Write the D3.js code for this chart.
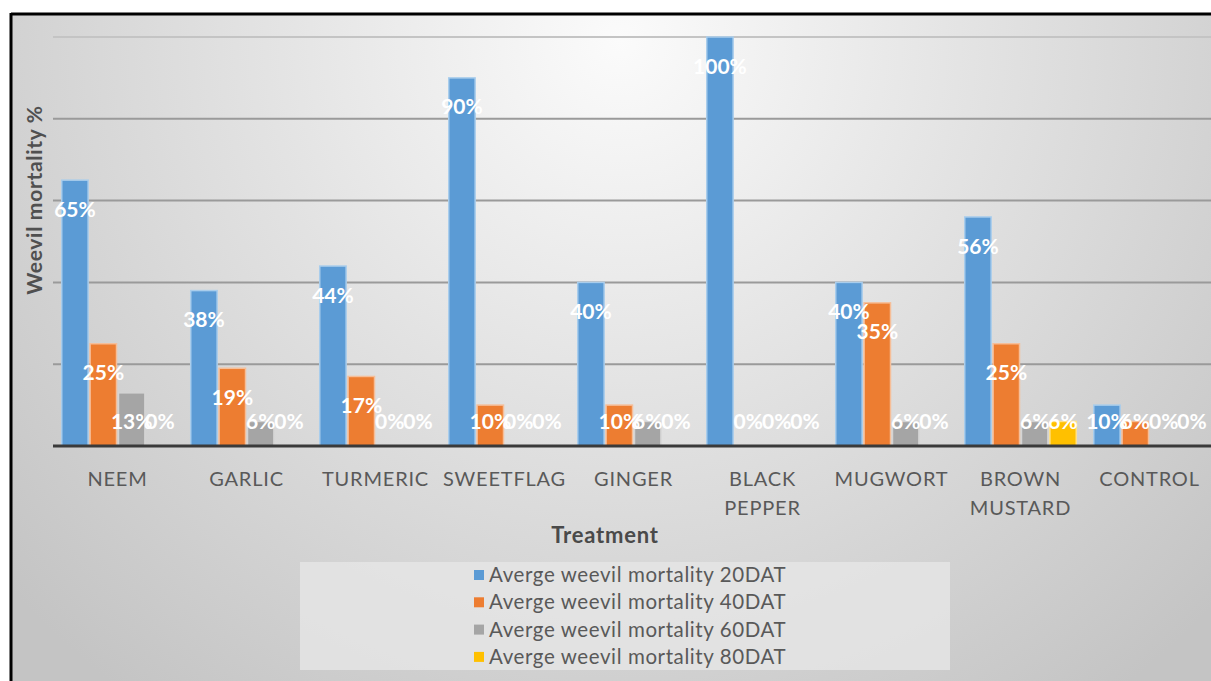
<!DOCTYPE html>
<html><head><meta charset="utf-8">
<script src="https://cdn.jsdelivr.net/npm/d3@7"></script>
<style>html,body{margin:0;padding:0;background:#fff;overflow:hidden}svg{display:block}</style>
</head><body>
<script>
const categories = [["NEEM"],["GARLIC"],["TURMERIC"],["SWEETFLAG"],["GINGER"],["BLACK","PEPPER"],["MUGWORT"],["BROWN","MUSTARD"],["CONTROL"]];
const seriesNames = ["Averge weevil mortality 20DAT","Averge weevil mortality 40DAT","Averge weevil mortality 60DAT","Averge weevil mortality 80DAT"];
const dat20 = [0.65,0.38,0.44,0.90,0.40,1.00,0.40,0.56,0.10];
const dat40 = [0.25,0.19,0.17,0.10,0.10,0.00,0.35,0.25,0.06];
const dat60 = [0.13,0.06,0.00,0.00,0.06,0.00,0.06,0.06,0.00];
const dat80 = [0.00,0.00,0.00,0.00,0.00,0.00,0.00,0.06,0.00];
const yTicks = [0,0.2,0.4,0.6,0.8,1.0];
const colors = ["#5b9bd5","#ed7d31","#a5a5a5","#ffc000"];
const strokes = ["#a9cdec","#f6be98","#d4d4d4","#ffe08a"];

const series = [dat20,dat40,dat60,dat80];
const W=1211,H=681;
const svg=d3.select("body").append("svg").attr("width",W).attr("height",H);
const defs=svg.append("defs");
const rg=defs.append("radialGradient").attr("id","bg").attr("gradientUnits","userSpaceOnUse")
  .attr("cx",620).attr("cy",40).attr("r",820);
rg.append("stop").attr("offset","0").attr("stop-color","#fbfbfb");
rg.append("stop").attr("offset","0.45").attr("stop-color","#e2e2e2");
rg.append("stop").attr("offset","1").attr("stop-color","#c4c4c4");
svg.append("rect").attr("width",W).attr("height",H).attr("fill","#fff");
svg.append("rect").attr("x",11).attr("y",14).attr("width",W).attr("height",H).attr("fill","url(#bg)");
svg.append("line").attr("x1",11).attr("x2",W).attr("y1",14).attr("y2",14).attr("stroke","#000").attr("stroke-width",3);
svg.append("line").attr("x1",11).attr("x2",11).attr("y1",13).attr("y2",H).attr("stroke","#000").attr("stroke-width",3);

const font="Lato, 'Open Sans', sans-serif";
const x0=d3.scaleBand().domain(d3.range(categories.length)).range([53,1214]).paddingInner(0.12).paddingOuter(0.06);
const x1=d3.scaleBand().domain(d3.range(series.length)).range([0,x0.bandwidth()]);
const y=d3.scaleLinear().domain([0,1]).range([446,37]);

// gridlines
svg.append("g").selectAll("line").data(yTicks.filter(d=>d>0)).join("line")
  .attr("x1",53).attr("x2",W).attr("y1",d=>y(d)).attr("y2",d=>y(d))
  .attr("stroke",d=>d===1?"#c4c4c4":"#9a9a9a").attr("stroke-width",2);

// bars
const g=svg.append("g");
series.forEach((s,si)=>{
  g.selectAll(".b"+si).data(s).join("rect")
   .attr("x",(d,i)=>x0(i)+x1(si)+1).attr("width",x1.bandwidth()-2)
   .attr("y",d=>y(d)).attr("height",d=>y(0)-y(d))
   .attr("fill",colors[si]).attr("stroke",d=>d>0?strokes[si]:"none").attr("stroke-width",1.5);
});
// baseline
svg.append("line").attr("x1",53).attr("x2",W).attr("y1",y(0)).attr("y2",y(0)).attr("stroke","#3a3a3a").attr("stroke-width",3);

// labels
const fmt=d3.format(".0%");
series.forEach((s,si)=>{
  svg.append("g").selectAll("text").data(s).join("text")
   .attr("x",(d,i)=>x0(i)+x1(si)+x1.bandwidth()/2)
   .attr("y",d=>Math.min(y(d)+29,421)).attr("dy","0.36em")
   .attr("text-anchor","middle").attr("font-family",font).attr("font-weight","bold")
   .attr("font-size",21).attr("fill","#fff").text(d=>fmt(d));
});

// category labels
const cl=svg.append("g");
categories.forEach((c,i)=>{
  const t=cl.append("text").attr("text-anchor","middle").attr("font-family",font).attr("font-size",20)
    .attr("letter-spacing","0.8px").attr("fill","#595959");
  c.forEach((line,li)=>t.append("tspan").attr("x",x0(i)+x0.bandwidth()/2).attr("y",486+li*29).text(line));
});

svg.append("text").attr("x",605).attr("y",543).attr("text-anchor","middle").attr("font-family",font)
  .attr("font-weight","bold").attr("font-size",22).attr("letter-spacing","0.8px").attr("fill","#4a4a4a").text("Treatment");
svg.append("text").attr("transform","translate(42,200) rotate(-90)").attr("text-anchor","middle").attr("font-family",font)
  .attr("font-weight","bold").attr("font-size",21).attr("letter-spacing","0.7px").attr("fill","#505050").text("Weevil mortality %");

// legend
svg.append("rect").attr("x",300).attr("y",562).attr("width",650).attr("height",108).attr("fill","#e6e6e6").attr("opacity",0.8);
const lg=svg.append("g");
seriesNames.forEach((n,i)=>{
  const cy=575+i*27.3;
  lg.append("rect").attr("x",474).attr("y",cy-5).attr("width",10).attr("height",10).attr("fill",colors[i]);
  lg.append("text").attr("x",489).attr("y",cy).attr("dy","0.35em").attr("font-family",font).attr("font-size",20.5)
    .attr("letter-spacing","0.6px").attr("fill","#595959").text(n);
});
</script>
</body></html>
